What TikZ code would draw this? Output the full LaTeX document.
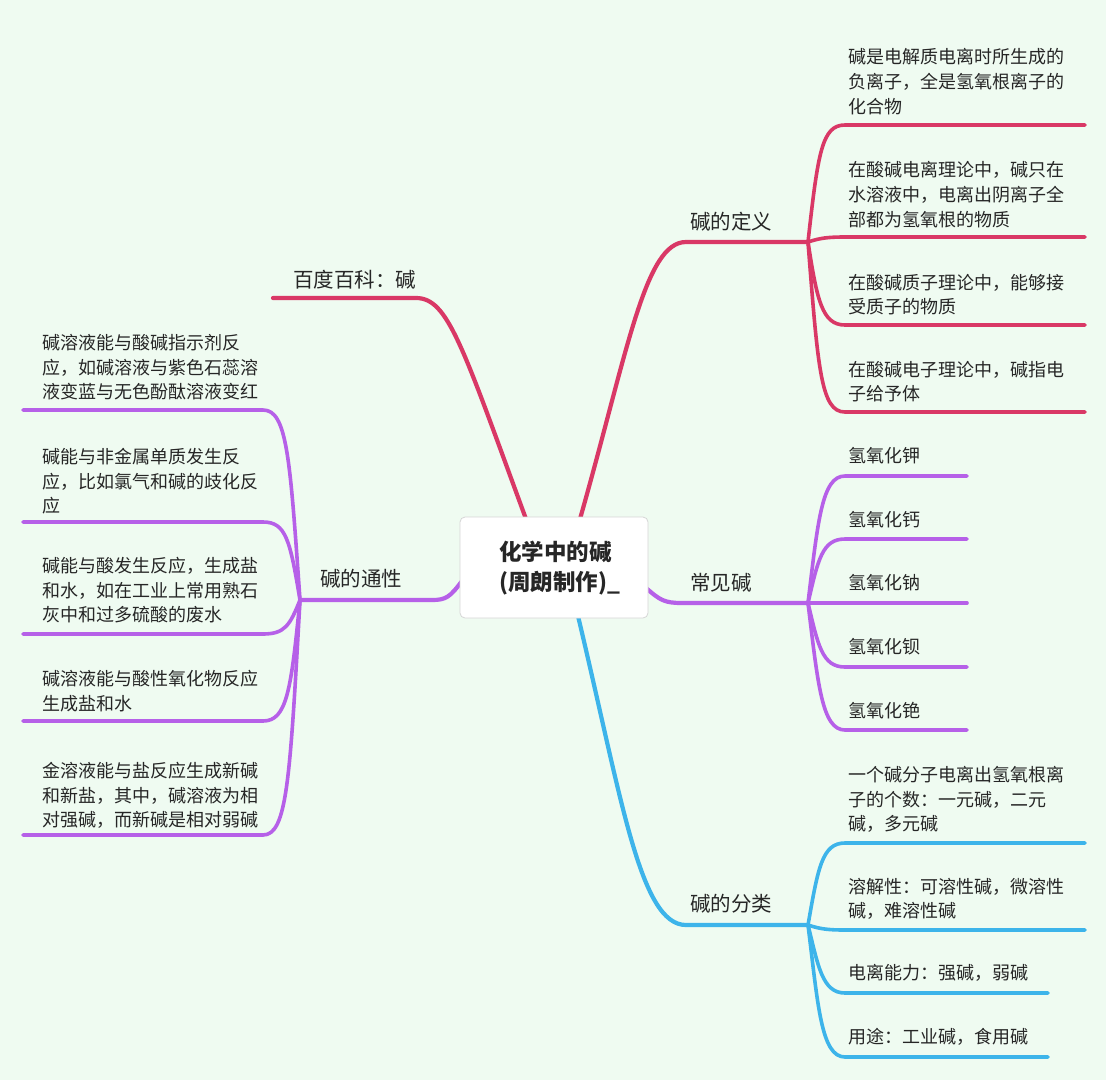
\documentclass[tikz,border=0pt]{standalone}
\usepackage{fontspec}
\setmainfont{Noto Sans CJK SC}
\newfontfamily\cjk{Noto Sans CJK SC}
\definecolor{bgc}{HTML}{EFFBF1}
\definecolor{redc}{HTML}{D93866}
\definecolor{purc}{HTML}{B660E8}
\definecolor{bluc}{HTML}{3DB4EA}
\definecolor{txtc}{HTML}{262626}
\definecolor{boxc}{HTML}{D6D6D6}
\begin{document}
\begin{tikzpicture}[x=1pt,y=-1pt,
  mainline/.style={line width=4.2pt,line cap=round},
  subline/.style={line width=3.6pt,line cap=round},
  lbl/.style={anchor=west,inner sep=0pt,text=txtc,font=\cjk\fontsize{20.5}{24}\selectfont},
  leaf/.style={anchor=west,inner sep=0pt,align=left,text=txtc,font=\cjk\fontsize{18}{24.6}\selectfont},
  rootbox/.style={draw=boxc,line width=0.8pt,fill=white,rounded corners=5pt,minimum width=188pt,minimum height=101pt,inner sep=0pt}
]
\useasboundingbox[fill=bgc] (0,0) rectangle (1106,1080);

% ---------- coordinates ----------
\coordinate (rA) at (526,519);   % root -> 百度百科
\coordinate (rB) at (580,519);   % root -> 碱的定义
\coordinate (rC) at (462,581);   % root -> 碱的通性
\coordinate (rD) at (646,588);   % root -> 常见碱
\coordinate (rE) at (578,616);   % root -> 碱的分类

\coordinate (bdEnd) at (273,298);
\coordinate (defB) at (808,242);
\coordinate (genB) at (300,600);
\coordinate (comB) at (808,603);
\coordinate (clsB) at (808,925);

% ---------- main branches ----------
\draw[mainline,redc] (rA) .. controls (462,345) and (448,298) .. (416,298) -- (bdEnd);
\draw[mainline,redc] (rB) .. controls (628,350) and (645,242) .. (686,242) -- (defB);
\draw[mainline,purc] (rC) .. controls (450,597) and (446,600) .. (432,600) -- (genB);
\draw[mainline,purc] (rD) .. controls (660,600) and (664,603) .. (682,603) -- (comB);
\draw[mainline,bluc] (rE) .. controls (622,800) and (640,925) .. (686,925) -- (clsB);

% root
\node[rootbox] (root) at (554,567.5) {};
\node[anchor=west,inner sep=0pt,align=left,text=txtc,font=\cjk\bfseries\fontsize{22.5}{30}\selectfont] (roottxt) at (499,568) {化学中的碱\\(周朗制作)\_};

% ---------- labels ----------
\node[lbl] (bd) at (293,280) {百度百科：碱};
\node[lbl] (def) at (690,222) {碱的定义};
\node[lbl] (gen) at (320,579) {碱的通性};
\node[lbl] (com) at (690,583) {常见碱};
\node[lbl] (cls) at (690,904) {碱的分类};

% ---------- definitions (red) ----------
\coordinate (d1a) at (845,125); \coordinate (d1b) at (1085,125);
\coordinate (d2a) at (845,237); \coordinate (d2b) at (1085,237);
\coordinate (d3a) at (845,325); \coordinate (d3b) at (1085,325);
\coordinate (d4a) at (845,412); \coordinate (d4b) at (1085,412);
\draw[subline,redc] (defB) .. controls (818,152) and (822,125) .. (d1a) -- (d1b);
\draw[subline,redc] (defB) .. controls (820,238) and (828,237) .. (d2a) -- (d2b);
\draw[subline,redc] (defB) .. controls (817,300) and (822,325) .. (d3a) -- (d3b);
\draw[subline,redc] (defB) .. controls (818,370) and (821,412) .. (d4a) -- (d4b);
\node[leaf] (d1) at (848,81.5) {碱是电解质电离时所生成的\\负离子，全是氢氧根离子的\\化合物};
\node[leaf] (d2) at (848,194.5) {在酸碱电离理论中，碱只在\\水溶液中，电离出阴离子全\\部都为氢氧根的物质};
\node[leaf] (d3) at (848,294.5) {在酸碱质子理论中，能够接\\受质子的物质};
\node[leaf] (d4) at (848,381.5) {在酸碱电子理论中，碱指电\\子给予体};

% ---------- general properties (purple, left) ----------
\coordinate (g1a) at (263,410); \coordinate (g1b) at (23,410);
\coordinate (g2a) at (263,522); \coordinate (g2b) at (23,522);
\coordinate (g3a) at (263,634); \coordinate (g3b) at (23,634);
\coordinate (g4a) at (263,721); \coordinate (g4b) at (23,721);
\coordinate (g5a) at (263,835); \coordinate (g5b) at (23,835);
\draw[subline,purc] (genB) .. controls (290,457) and (287,410) .. (g1a) -- (g1b);
\draw[subline,purc] (genB) .. controls (290,540) and (286,522) .. (g2a) -- (g2b);
\draw[subline,purc] (genB) .. controls (290,625) and (285,634) .. (g3a) -- (g3b);
\draw[subline,purc] (genB) .. controls (291,690) and (287,721) .. (g4a) -- (g4b);
\draw[subline,purc] (genB) .. controls (290,780) and (287,835) .. (g5a) -- (g5b);
\node[leaf] (g1) at (42,367.5) {碱溶液能与酸碱指示剂反\\应，如碱溶液与紫色石蕊溶\\液变蓝与无色酚酞溶液变红};
\node[leaf] (g2) at (42,481.5) {碱能与非金属单质发生反\\应，比如氯气和碱的歧化反\\应};
\node[leaf] (g3) at (42,590.5) {碱能与酸发生反应，生成盐\\和水，如在工业上常用熟石\\灰中和过多硫酸的废水};
\node[leaf] (g4) at (42,691) {碱溶液能与酸性氧化物反应\\生成盐和水};
\node[leaf] (g5) at (42,795.5) {金溶液能与盐反应生成新碱\\和新盐，其中，碱溶液为相\\对强碱，而新碱是相对弱碱};

% ---------- common bases (purple, right) ----------
\coordinate (c1a) at (845,476); \coordinate (c1b) at (967,476);
\coordinate (c2a) at (845,539); \coordinate (c2b) at (967,539);
\coordinate (c3a) at (845,603); \coordinate (c3b) at (967,603);
\coordinate (c4a) at (845,667); \coordinate (c4b) at (967,667);
\coordinate (c5a) at (845,730); \coordinate (c5b) at (967,730);
\draw[subline,purc] (comB) .. controls (818,520) and (822,476) .. (c1a) -- (c1b);
\draw[subline,purc] (comB) .. controls (818,560) and (822,539) .. (c2a) -- (c2b);
\draw[subline,purc] (comB) -- (c3a) -- (c3b);
\draw[subline,purc] (comB) .. controls (818,645) and (822,667) .. (c4a) -- (c4b);
\draw[subline,purc] (comB) .. controls (818,685) and (822,730) .. (c5a) -- (c5b);
\node[leaf] (c1) at (848,456) {氢氧化钾};
\node[leaf] (c2) at (848,520) {氢氧化钙};
\node[leaf] (c3) at (848,583) {氢氧化钠};
\node[leaf] (c4) at (848,647) {氢氧化钡};
\node[leaf] (c5) at (848,711) {氢氧化铯};

% ---------- classification (blue) ----------
\coordinate (k1a) at (845,843); \coordinate (k1b) at (1085,843);
\coordinate (k2a) at (845,930); \coordinate (k2b) at (1085,930);
\coordinate (k3a) at (845,993); \coordinate (k3b) at (1048,993);
\coordinate (k4a) at (845,1057); \coordinate (k4b) at (1048,1057);
\draw[subline,bluc] (clsB) .. controls (818,868) and (822,843) .. (k1a) -- (k1b);
\draw[subline,bluc] (clsB) .. controls (820,929) and (828,930) .. (k2a) -- (k2b);
\draw[subline,bluc] (clsB) .. controls (818,965) and (822,993) .. (k3a) -- (k3b);
\draw[subline,bluc] (clsB) .. controls (818,1005) and (821,1057) .. (k4a) -- (k4b);
\node[leaf] (k1) at (848,799.5) {一个碱分子电离出氢氧根离\\子的个数：一元碱，二元\\碱，多元碱};
\node[leaf] (k2) at (848,899) {溶解性：可溶性碱，微溶性\\碱，难溶性碱};
\node[leaf] (k3) at (848,973) {电离能力：强碱，弱碱};
\node[leaf] (k4) at (848,1037) {用途：工业碱，食用碱};
\end{tikzpicture}
\end{document}
